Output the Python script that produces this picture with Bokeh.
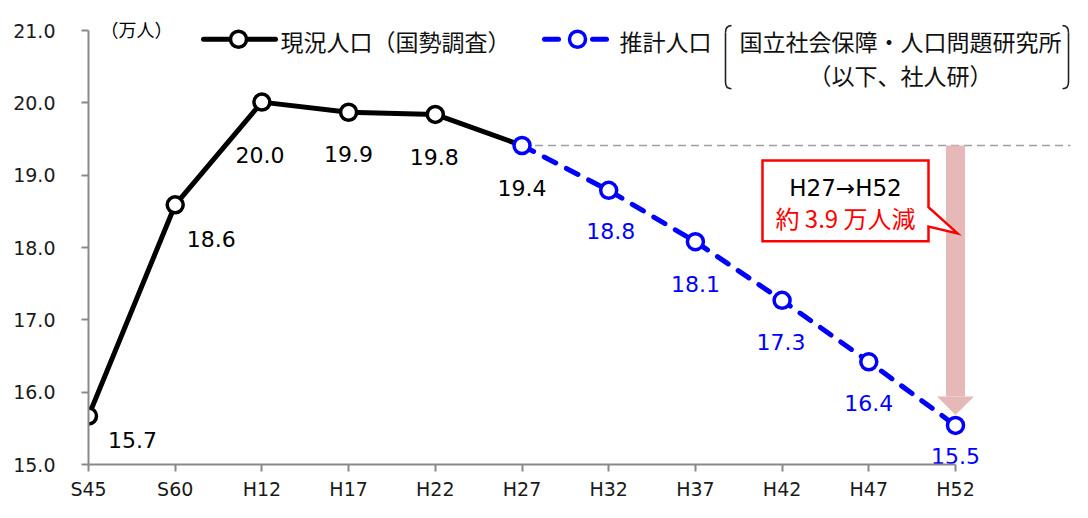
from bokeh.plotting import figure
from bokeh.models import Range1d, FixedTicker
from bokeh.core.properties import value
from bokeh.embed import file_html
from bokeh.resources import INLINE

# ---------------- data ----------------
categories = ["S45", "S60", "H12", "H17", "H22", "H27", "H32", "H37", "H42", "H47", "H52"]
actual_x = [0, 1, 2, 3, 4, 5]
actual_values = [15.67, 18.59, 20.01, 19.87, 19.84, 19.41]
actual_text = ["15.7", "18.6", "20.0", "19.9", "19.8", "19.4"]
proj_x = [5, 6, 7, 8, 9, 10]
proj_values = [19.41, 18.79, 18.08, 17.27, 16.42, 15.54]
proj_text = ["18.8", "18.1", "17.3", "16.4", "15.5"]          # for proj_x[1:]
y_ticks = [15, 16, 17, 18, 19, 20, 21]
y_tick_labels = ["15.0", "16.0", "17.0", "18.0", "19.0", "20.0", "21.0"]
unit_label = "（万人）"
legend_actual = "現況人口（国勢調査）"
legend_proj = "推計人口"
legend_proj_note = ["国立社会保障・人口問題研究所", "（以下、社人研）"]
callout_lines = ["H27→H52", "約 3.9 万人減"]

# label placement (reference-pixel offsets from the point: right, down)
actual_label_dx = [44, 36, -2, 0, -1, 0]
actual_label_dy = [25, 35, 54, 43, 44, 44]
proj_label_dx = [2, 0, -1, 0, 0]
proj_label_dy = [42, 44, 43, 42, 31]

# ---------------- layout ----------------
W, H = 1072, 502
BORDER_LEFT, BORDER_BOTTOM = 88, 38
FRAME_TOP_TICK = 30                      # pixel row of the top tick (21.0)
PX_X = 86.7                              # px per category
frame_w = W - BORDER_LEFT
frame_h = H - BORDER_BOTTOM
PX_Y_FIG = (frame_h - FRAME_TOP_TICK) / (y_ticks[-1] - y_ticks[0])
REF_PX_Y = 74.5                          # scale used to place decorations
Y0 = y_ticks[0]


def rx(px):
    return (px - BORDER_LEFT) / PX_X


def ry(py):
    return Y0 + (478 - py) / REF_PX_Y


BLACK = "#000000"
BLUE = "#0000FF"
RED = "#FF0000"
GRAY = "#898989"
PINK = "#E6B9B8"
NUM_FONT = value("DejaVu Sans")
JP_FONT = value("Noto Sans CJK JP")

p = figure(width=W, height=H, output_backend="svg", toolbar_location=None,
           x_range=Range1d(0, frame_w / PX_X),
           y_range=Range1d(Y0, Y0 + frame_h / PX_Y_FIG),
           min_border_left=BORDER_LEFT, min_border_right=0,
           min_border_top=0, min_border_bottom=BORDER_BOTTOM)
p.outline_line_color = None
p.grid.visible = False
p.background_fill_color = "white"
p.border_fill_color = "white"

# axes
for ax in (p.xaxis[0], p.yaxis[0]):
    ax.axis_line_color = GRAY
    ax.axis_line_width = 2
    ax.major_tick_line_color = GRAY
    ax.major_tick_line_width = 2
    ax.major_tick_in = 0
    ax.major_tick_out = 7
    ax.minor_tick_line_color = None
    ax.major_label_text_font = "DejaVu Sans"
    ax.major_label_text_font_size = "19px"
    ax.major_label_text_color = "#1a1a1a"

p.xaxis.ticker = FixedTicker(ticks=list(range(len(categories))))
p.xaxis.major_label_overrides = {i: c for i, c in enumerate(categories)}
p.xaxis.bounds = (0, len(categories) - 1)
p.xaxis.major_label_standoff = 6

p.yaxis.ticker = FixedTicker(ticks=y_ticks)
p.yaxis.major_label_overrides = {t: l for t, l in zip(y_ticks, y_tick_labels)}
p.yaxis.bounds = (y_ticks[0], y_ticks[-1])
p.yaxis.major_label_standoff = 26

# reference dashed line at the H27 level
p.line([proj_x[0], rx(1070)], [proj_values[0]] * 2, line_color="#A0A0A0",
       line_width=1.5, line_dash="8 5")

# decline arrow
head_top = ry(408)
p.quad(left=[proj_x[-1] - 0.11], right=[proj_x[-1] + 0.11],
       top=[proj_values[0]], bottom=[head_top], fill_color=PINK, line_color=None)
p.patch([proj_x[-1] - 0.213, proj_x[-1] + 0.213, proj_x[-1]],
        [head_top, head_top, ry(427)], fill_color=PINK, line_color=None)

# series lines
p.line(actual_x, actual_values, line_color=BLACK, line_width=5, line_join="round")
p.line(proj_x, proj_values, line_color=BLUE, line_width=5, line_dash="13 12",
       line_cap="round")

# markers
p.scatter(actual_x[:-1], actual_values[:-1], size=16, fill_color="white",
          line_color=BLACK, line_width=3.5)
p.scatter(proj_x, proj_values, size=16, fill_color="white",
          line_color=BLUE, line_width=3.5)

# data labels
p.text([x + dx / PX_X for x, dx in zip(actual_x, actual_label_dx)],
       [v - dy / REF_PX_Y for v, dy in zip(actual_values, actual_label_dy)],
       text=actual_text, text_align="center", text_baseline="middle",
       text_font=NUM_FONT, text_font_size="22px", text_color=BLACK)
p.text([x + dx / PX_X for x, dx in zip(proj_x[1:], proj_label_dx)],
       [v - dy / REF_PX_Y for v, dy in zip(proj_values[1:], proj_label_dy)],
       text=proj_text, text_align="center", text_baseline="middle",
       text_font=NUM_FONT, text_font_size="22px", text_color=BLUE)

# callout
p.patch([rx(762), rx(928), rx(928), rx(957), rx(928), rx(928), rx(762)],
        [ry(165), ry(165), ry(213), ry(240), ry(233), ry(248), ry(248)],
        fill_color="white", line_color=RED, line_width=2.5, line_join="miter")
p.text([rx(845)], [ry(193)], text=[callout_lines[0]], text_align="center",
       text_baseline="middle", text_font=NUM_FONT, text_font_size="23px",
       text_color=BLACK)
p.text([rx(845)], [ry(224)], text=[callout_lines[1]], text_align="center",
       text_baseline="middle", text_font=JP_FONT, text_font_size="24px",
       text_color=RED)

# unit label
p.text([rx(100)], [ry(29)], text=[unit_label], text_align="left",
       text_baseline="middle", text_font=JP_FONT, text_font_size="18px",
       text_color=BLACK)

# legend: actual
p.line([rx(203), rx(275)], [ry(40)] * 2, line_color=BLACK, line_width=5,
       line_cap="round")
p.scatter([rx(238)], [ry(40)], size=16, fill_color="white", line_color=BLACK,
          line_width=3.5)
p.text([rx(280)], [ry(42)], text=[legend_actual], text_align="left",
       text_baseline="middle", text_font=JP_FONT, text_font_size="23px",
       text_color="#111111")

# legend: projection
p.multi_line([[rx(544), rx(558)], [rx(592), rx(606)]], [[ry(40)] * 2] * 2,
             line_color=BLUE, line_width=5, line_cap="round")
p.scatter([rx(577)], [ry(40)], size=16, fill_color="white", line_color=BLUE,
          line_width=3.5)
p.text([rx(619)], [ry(42)], text=[legend_proj], text_align="left",
       text_baseline="middle", text_font=JP_FONT, text_font_size="23px",
       text_color="#111111")
p.text([rx(900), rx(900)], [ry(42), ry(77)], text=legend_proj_note,
       text_align="center", text_baseline="middle", text_font=JP_FONT,
       text_font_size="23px", text_color="#111111")

# brackets around the note
BR = dict(line_color="#222222", line_width=1.6)
for xe, xc in ((731, 725), (1062, 1068)):
    p.quadratic(x0=[rx(xe)], y0=[ry(26)], x1=[rx(xc)], y1=[ry(33)],
                cx=[rx(xc)], cy=[ry(26)], **BR)
    p.line([rx(xc), rx(xc)], [ry(33), ry(84)], **BR)
    p.quadratic(x0=[rx(xc)], y0=[ry(84)], x1=[rx(xe)], y1=[ry(91)],
                cx=[rx(xc)], cy=[ry(91)], **BR)

open("out.html", "w").write(file_html(p, INLINE))
